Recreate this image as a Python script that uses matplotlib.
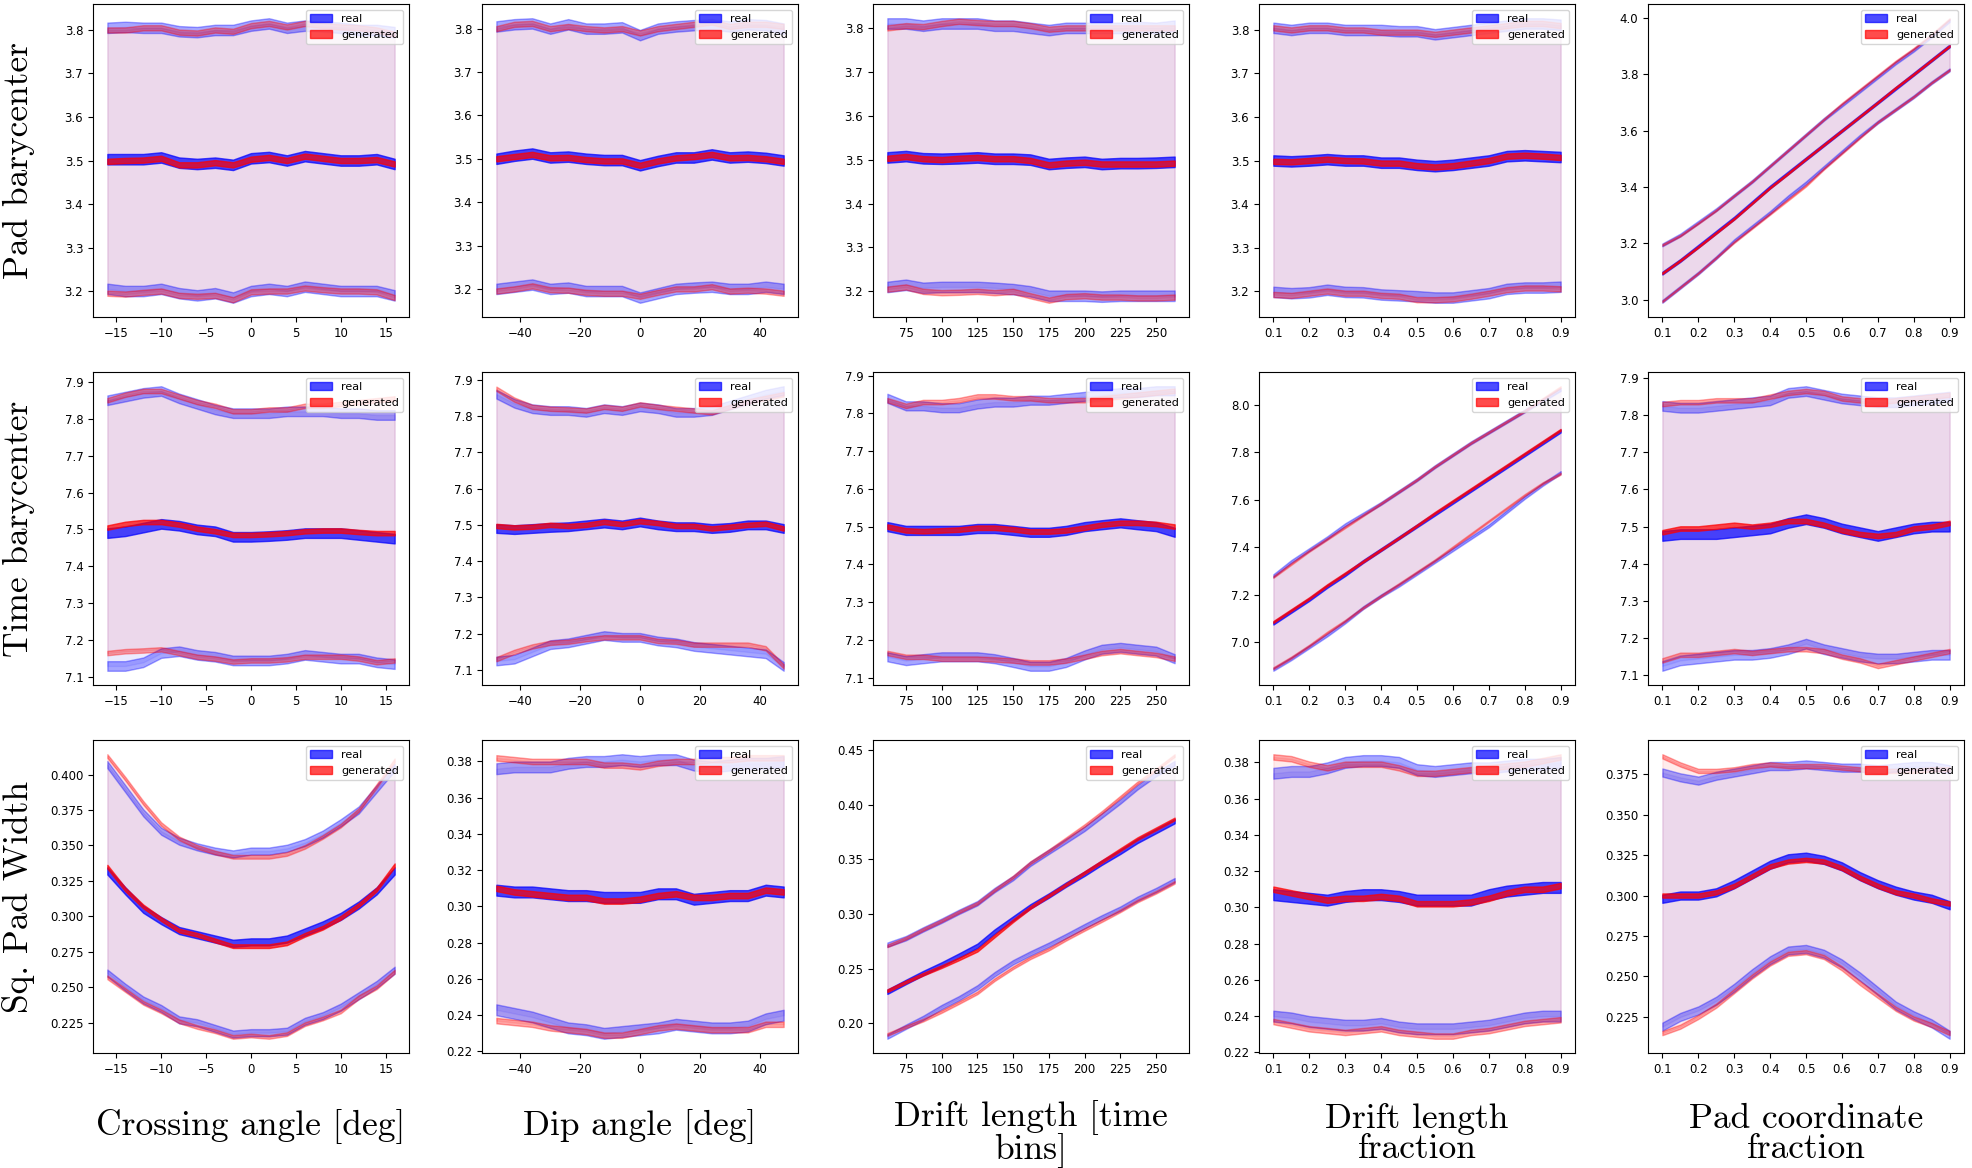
import matplotlib
matplotlib.use("Agg")
import matplotlib.pyplot as plt
from matplotlib.ticker import MultipleLocator
import numpy as np

# x grids of the five conditioning variables
x_cross = [-16, -14, -12, -10, -8, -6, -4, -2, 0, 2, 4, 6, 8, 10, 12, 14, 16]
x_dip = [-48, -42, -36, -30, -24, -18, -12, -6, 0, 6, 12, 18, 24, 30, 36, 42, 48]
x_drift = [62, 75, 87, 100, 112, 125, 137, 150, 162, 175, 187, 200, 212, 225, 237, 250, 263]
x_frac = [0.1, 0.15, 0.2, 0.25, 0.3, 0.35, 0.4, 0.45, 0.5, 0.55, 0.6, 0.65, 0.7, 0.75, 0.8, 0.85, 0.9]
x_tick_step = [None, None, 25, 0.1, 0.1]

row_labels = ["Pad barycenter", "Time barycenter", "Sq. Pad Width"]
col_labels = ["Crossing angle [deg]", "Dip angle [deg]", "Drift length [time\nbins]",
              "Drift length\nfraction", "Pad coordinate\nfraction"]

# ---- Pad barycenter ----
pb_cross_real = [3.503, 3.503, 3.503, 3.507, 3.495, 3.492, 3.495, 3.490, 3.505, 3.508, 3.500, 3.510, 3.505, 3.500, 3.500, 3.503, 3.492]
pb_cross_gen = [3.498, 3.500, 3.501, 3.505, 3.490, 3.490, 3.495, 3.490, 3.503, 3.507, 3.500, 3.510, 3.505, 3.500, 3.500, 3.502, 3.492]
pb_cross_real_hi = [3.805, 3.807, 3.805, 3.805, 3.797, 3.795, 3.800, 3.800, 3.810, 3.815, 3.805, 3.810, 3.808, 3.805, 3.800, 3.800, 3.795]
pb_cross_gen_hi = [3.800, 3.800, 3.805, 3.805, 3.795, 3.793, 3.800, 3.797, 3.810, 3.815, 3.807, 3.815, 3.810, 3.807, 3.805, 3.800, 3.790]
pb_cross_real_lo = [3.205, 3.200, 3.200, 3.205, 3.195, 3.190, 3.195, 3.185, 3.200, 3.205, 3.200, 3.210, 3.205, 3.200, 3.200, 3.200, 3.190]
pb_cross_gen_lo = [3.195, 3.193, 3.197, 3.200, 3.190, 3.188, 3.190, 3.180, 3.198, 3.200, 3.200, 3.207, 3.203, 3.200, 3.200, 3.198, 3.185]

pb_dip_real = [3.500, 3.507, 3.512, 3.503, 3.505, 3.500, 3.497, 3.497, 3.485, 3.495, 3.503, 3.503, 3.510, 3.503, 3.505, 3.502, 3.496]
pb_dip_gen = [3.500, 3.505, 3.510, 3.502, 3.503, 3.498, 3.495, 3.495, 3.485, 3.495, 3.502, 3.505, 3.510, 3.502, 3.503, 3.500, 3.494]
pb_dip_real_hi = [3.805, 3.810, 3.812, 3.800, 3.810, 3.800, 3.800, 3.803, 3.785, 3.800, 3.805, 3.808, 3.810, 3.805, 3.810, 3.808, 3.800]
pb_dip_gen_hi = [3.800, 3.810, 3.812, 3.800, 3.805, 3.800, 3.797, 3.800, 3.790, 3.800, 3.805, 3.810, 3.815, 3.805, 3.810, 3.810, 3.805]
pb_dip_real_lo = [3.200, 3.205, 3.210, 3.200, 3.203, 3.195, 3.195, 3.195, 3.180, 3.190, 3.200, 3.203, 3.205, 3.200, 3.200, 3.205, 3.200]
pb_dip_gen_lo = [3.195, 3.200, 3.207, 3.198, 3.197, 3.192, 3.190, 3.190, 3.183, 3.192, 3.200, 3.200, 3.205, 3.195, 3.197, 3.195, 3.190]

pb_drift_real = [3.505, 3.508, 3.503, 3.502, 3.503, 3.505, 3.502, 3.502, 3.500, 3.490, 3.493, 3.495, 3.490, 3.492, 3.492, 3.493, 3.495]
pb_drift_gen = [3.503, 3.507, 3.502, 3.500, 3.503, 3.505, 3.502, 3.502, 3.498, 3.488, 3.492, 3.494, 3.490, 3.490, 3.490, 3.490, 3.492]
pb_drift_real_hi = [3.810, 3.810, 3.805, 3.810, 3.810, 3.810, 3.805, 3.805, 3.800, 3.795, 3.800, 3.800, 3.800, 3.800, 3.802, 3.800, 3.805]
pb_drift_gen_hi = [3.800, 3.805, 3.803, 3.810, 3.815, 3.812, 3.810, 3.810, 3.805, 3.797, 3.800, 3.800, 3.800, 3.800, 3.800, 3.800, 3.800]
pb_drift_real_lo = [3.210, 3.215, 3.208, 3.210, 3.210, 3.210, 3.208, 3.205, 3.200, 3.190, 3.190, 3.190, 3.188, 3.190, 3.190, 3.190, 3.190]
pb_drift_gen_lo = [3.205, 3.210, 3.200, 3.197, 3.198, 3.200, 3.197, 3.200, 3.190, 3.180, 3.188, 3.190, 3.187, 3.187, 3.185, 3.185, 3.187]

pb_dfrac_real = [3.500, 3.498, 3.500, 3.503, 3.500, 3.500, 3.495, 3.495, 3.490, 3.487, 3.490, 3.495, 3.500, 3.510, 3.512, 3.510, 3.508]
pb_dfrac_gen = [3.498, 3.497, 3.500, 3.503, 3.500, 3.499, 3.494, 3.494, 3.488, 3.485, 3.488, 3.494, 3.500, 3.510, 3.512, 3.510, 3.507]
pb_dfrac_real_hi = [3.805, 3.800, 3.805, 3.805, 3.800, 3.800, 3.800, 3.797, 3.797, 3.790, 3.795, 3.800, 3.805, 3.810, 3.815, 3.815, 3.812]
pb_dfrac_gen_hi = [3.805, 3.800, 3.805, 3.805, 3.800, 3.800, 3.795, 3.795, 3.795, 3.790, 3.795, 3.800, 3.805, 3.810, 3.815, 3.815, 3.810]
pb_dfrac_real_lo = [3.198, 3.195, 3.197, 3.203, 3.198, 3.197, 3.192, 3.190, 3.188, 3.185, 3.185, 3.190, 3.195, 3.205, 3.208, 3.208, 3.210]
pb_dfrac_gen_lo = [3.192, 3.190, 3.195, 3.200, 3.195, 3.195, 3.190, 3.188, 3.180, 3.180, 3.182, 3.188, 3.195, 3.203, 3.207, 3.207, 3.205]

pb_pfrac_real = [3.095, 3.140, 3.190, 3.240, 3.290, 3.345, 3.400, 3.450, 3.500, 3.550, 3.600, 3.650, 3.700, 3.750, 3.800, 3.850, 3.900]
pb_pfrac_gen = [3.095, 3.140, 3.188, 3.238, 3.288, 3.343, 3.398, 3.448, 3.500, 3.550, 3.600, 3.650, 3.700, 3.752, 3.800, 3.850, 3.900]
pb_pfrac_real_hi = [3.195, 3.230, 3.275, 3.320, 3.370, 3.420, 3.475, 3.530, 3.585, 3.640, 3.690, 3.740, 3.790, 3.840, 3.885, 3.935, 3.990]
pb_pfrac_gen_hi = [3.195, 3.228, 3.272, 3.318, 3.370, 3.420, 3.475, 3.530, 3.585, 3.640, 3.695, 3.745, 3.795, 3.845, 3.890, 3.940, 3.995]
pb_pfrac_real_lo = [2.995, 3.045, 3.095, 3.150, 3.210, 3.260, 3.310, 3.365, 3.415, 3.470, 3.525, 3.580, 3.630, 3.675, 3.720, 3.770, 3.815]
pb_pfrac_gen_lo = [2.995, 3.045, 3.095, 3.150, 3.205, 3.255, 3.305, 3.355, 3.405, 3.465, 3.520, 3.575, 3.630, 3.675, 3.720, 3.770, 3.815]

# ---- Time barycenter ----
tb_cross_real = [7.490, 7.495, 7.505, 7.515, 7.510, 7.500, 7.495, 7.480, 7.480, 7.482, 7.485, 7.490, 7.490, 7.490, 7.485, 7.480, 7.475]
tb_cross_gen = [7.505, 7.515, 7.520, 7.520, 7.513, 7.502, 7.495, 7.485, 7.485, 7.487, 7.490, 7.495, 7.497, 7.497, 7.493, 7.490, 7.490]
tb_cross_real_hi = [7.850, 7.860, 7.870, 7.875, 7.855, 7.840, 7.825, 7.815, 7.815, 7.815, 7.820, 7.820, 7.820, 7.815, 7.815, 7.810, 7.810]
tb_cross_gen_hi = [7.850, 7.865, 7.875, 7.875, 7.860, 7.845, 7.835, 7.820, 7.820, 7.825, 7.825, 7.835, 7.835, 7.840, 7.845, 7.850, 7.855]
tb_cross_real_lo = [7.130, 7.130, 7.140, 7.165, 7.170, 7.160, 7.155, 7.145, 7.145, 7.145, 7.150, 7.160, 7.155, 7.150, 7.150, 7.140, 7.135]
tb_cross_gen_lo = [7.165, 7.170, 7.172, 7.175, 7.165, 7.155, 7.150, 7.142, 7.145, 7.145, 7.148, 7.155, 7.155, 7.155, 7.150, 7.140, 7.145]

tb_dip_real = [7.490, 7.487, 7.490, 7.493, 7.495, 7.500, 7.505, 7.500, 7.508, 7.500, 7.495, 7.495, 7.490, 7.493, 7.500, 7.500, 7.490]
tb_dip_gen = [7.497, 7.493, 7.495, 7.500, 7.497, 7.500, 7.508, 7.502, 7.510, 7.505, 7.497, 7.497, 7.490, 7.495, 7.500, 7.503, 7.490]
tb_dip_real_hi = [7.860, 7.835, 7.820, 7.815, 7.815, 7.810, 7.820, 7.815, 7.825, 7.820, 7.810, 7.810, 7.815, 7.830, 7.845, 7.860, 7.870]
tb_dip_gen_hi = [7.875, 7.845, 7.825, 7.820, 7.818, 7.815, 7.825, 7.820, 7.832, 7.825, 7.820, 7.815, 7.810, 7.825, 7.840, 7.850, 7.860]
tb_dip_real_lo = [7.125, 7.130, 7.150, 7.170, 7.175, 7.185, 7.195, 7.190, 7.190, 7.180, 7.175, 7.165, 7.160, 7.155, 7.150, 7.145, 7.110]
tb_dip_gen_lo = [7.130, 7.150, 7.165, 7.175, 7.178, 7.185, 7.190, 7.190, 7.190, 7.180, 7.178, 7.170, 7.170, 7.170, 7.170, 7.160, 7.110]

tb_drift_real = [7.500, 7.490, 7.490, 7.490, 7.490, 7.495, 7.495, 7.490, 7.485, 7.485, 7.490, 7.500, 7.505, 7.510, 7.505, 7.500, 7.485]
tb_drift_gen = [7.500, 7.490, 7.488, 7.490, 7.492, 7.497, 7.497, 7.493, 7.487, 7.487, 7.490, 7.497, 7.505, 7.510, 7.510, 7.507, 7.500]
tb_drift_real_hi = [7.840, 7.820, 7.820, 7.815, 7.815, 7.825, 7.830, 7.830, 7.835, 7.835, 7.840, 7.845, 7.850, 7.855, 7.855, 7.860, 7.860]
tb_drift_gen_hi = [7.835, 7.820, 7.830, 7.830, 7.835, 7.845, 7.845, 7.840, 7.840, 7.835, 7.835, 7.835, 7.840, 7.845, 7.850, 7.855, 7.860]
tb_drift_real_lo = [7.155, 7.145, 7.150, 7.155, 7.155, 7.155, 7.150, 7.140, 7.130, 7.130, 7.140, 7.160, 7.175, 7.180, 7.175, 7.170, 7.150]
tb_drift_gen_lo = [7.165, 7.155, 7.155, 7.150, 7.150, 7.150, 7.148, 7.145, 7.140, 7.140, 7.145, 7.155, 7.165, 7.170, 7.165, 7.160, 7.150]

tb_dfrac_real = [7.080, 7.130, 7.180, 7.235, 7.285, 7.340, 7.390, 7.440, 7.490, 7.540, 7.590, 7.640, 7.690, 7.740, 7.790, 7.840, 7.890]
tb_dfrac_gen = [7.085, 7.135, 7.185, 7.240, 7.290, 7.340, 7.390, 7.440, 7.492, 7.545, 7.595, 7.645, 7.695, 7.745, 7.795, 7.845, 7.895]
tb_dfrac_real_hi = [7.280, 7.340, 7.390, 7.440, 7.495, 7.540, 7.585, 7.635, 7.685, 7.740, 7.790, 7.840, 7.885, 7.930, 7.975, 8.020, 8.065]
tb_dfrac_gen_hi = [7.275, 7.330, 7.385, 7.435, 7.485, 7.535, 7.585, 7.635, 7.685, 7.740, 7.790, 7.840, 7.885, 7.930, 7.975, 8.025, 8.075]
tb_dfrac_real_lo = [6.885, 6.930, 6.980, 7.030, 7.085, 7.145, 7.195, 7.240, 7.290, 7.340, 7.390, 7.440, 7.490, 7.550, 7.610, 7.665, 7.715]
tb_dfrac_gen_lo = [6.890, 6.935, 6.985, 7.040, 7.090, 7.145, 7.195, 7.245, 7.295, 7.345, 7.400, 7.455, 7.510, 7.565, 7.620, 7.670, 7.710]

tb_pfrac_real = [7.475, 7.480, 7.480, 7.480, 7.485, 7.490, 7.495, 7.510, 7.520, 7.510, 7.495, 7.485, 7.475, 7.485, 7.495, 7.500, 7.500]
tb_pfrac_gen = [7.485, 7.495, 7.495, 7.500, 7.505, 7.500, 7.505, 7.515, 7.515, 7.505, 7.490, 7.480, 7.475, 7.480, 7.495, 7.500, 7.510]
tb_pfrac_real_hi = [7.825, 7.820, 7.820, 7.825, 7.830, 7.835, 7.840, 7.860, 7.865, 7.855, 7.845, 7.840, 7.835, 7.835, 7.840, 7.845, 7.850]
tb_pfrac_gen_hi = [7.830, 7.835, 7.835, 7.840, 7.840, 7.840, 7.850, 7.860, 7.865, 7.860, 7.845, 7.840, 7.835, 7.840, 7.845, 7.850, 7.855]
tb_pfrac_real_lo = [7.125, 7.140, 7.145, 7.150, 7.155, 7.155, 7.160, 7.170, 7.185, 7.170, 7.160, 7.150, 7.145, 7.145, 7.150, 7.155, 7.155]
tb_pfrac_gen_lo = [7.140, 7.155, 7.155, 7.160, 7.165, 7.160, 7.165, 7.170, 7.170, 7.165, 7.150, 7.140, 7.125, 7.135, 7.145, 7.155, 7.165]

# ---- Sq. pad width ----
pw_cross_real = [0.332, 0.318, 0.305, 0.297, 0.290, 0.287, 0.284, 0.281, 0.282, 0.282, 0.284, 0.289, 0.294, 0.300, 0.308, 0.318, 0.332]
pw_cross_gen = [0.335, 0.319, 0.307, 0.298, 0.290, 0.287, 0.283, 0.279, 0.279, 0.279, 0.281, 0.287, 0.292, 0.299, 0.308, 0.319, 0.336]
pw_cross_real_hi = [0.407, 0.390, 0.373, 0.360, 0.353, 0.349, 0.346, 0.344, 0.346, 0.346, 0.348, 0.352, 0.358, 0.366, 0.375, 0.390, 0.405]
pw_cross_gen_hi = [0.413, 0.397, 0.380, 0.365, 0.355, 0.349, 0.345, 0.342, 0.342, 0.342, 0.344, 0.349, 0.356, 0.364, 0.375, 0.392, 0.410]
pw_cross_real_lo = [0.260, 0.250, 0.241, 0.235, 0.227, 0.225, 0.221, 0.217, 0.218, 0.218, 0.219, 0.226, 0.230, 0.236, 0.244, 0.252, 0.262]
pw_cross_gen_lo = [0.257, 0.248, 0.239, 0.233, 0.226, 0.222, 0.219, 0.215, 0.216, 0.215, 0.217, 0.224, 0.228, 0.233, 0.243, 0.250, 0.261]

pw_dip_real = [0.309, 0.308, 0.308, 0.307, 0.306, 0.306, 0.305, 0.305, 0.305, 0.307, 0.307, 0.304, 0.305, 0.306, 0.306, 0.309, 0.308]
pw_dip_gen = [0.310, 0.308, 0.307, 0.306, 0.305, 0.305, 0.303, 0.303, 0.304, 0.306, 0.307, 0.305, 0.305, 0.306, 0.306, 0.309, 0.308]
pw_dip_real_hi = [0.376, 0.377, 0.377, 0.377, 0.379, 0.380, 0.380, 0.381, 0.380, 0.381, 0.381, 0.378, 0.377, 0.378, 0.379, 0.379, 0.380]
pw_dip_gen_hi = [0.382, 0.381, 0.380, 0.380, 0.380, 0.380, 0.378, 0.378, 0.377, 0.379, 0.380, 0.380, 0.381, 0.381, 0.382, 0.382, 0.382]
pw_dip_real_lo = [0.243, 0.241, 0.239, 0.236, 0.233, 0.232, 0.230, 0.231, 0.232, 0.233, 0.235, 0.234, 0.233, 0.233, 0.234, 0.238, 0.240]
pw_dip_gen_lo = [0.237, 0.236, 0.235, 0.233, 0.232, 0.231, 0.229, 0.229, 0.231, 0.233, 0.234, 0.233, 0.232, 0.232, 0.232, 0.235, 0.235]

pw_drift_real = [0.229, 0.238, 0.246, 0.254, 0.262, 0.271, 0.284, 0.296, 0.307, 0.317, 0.327, 0.337, 0.347, 0.357, 0.367, 0.376, 0.385]
pw_drift_gen = [0.230, 0.238, 0.245, 0.252, 0.259, 0.267, 0.280, 0.294, 0.306, 0.317, 0.327, 0.338, 0.348, 0.359, 0.369, 0.378, 0.387]
pw_drift_real_hi = [0.272, 0.278, 0.286, 0.294, 0.302, 0.310, 0.322, 0.333, 0.346, 0.357, 0.367, 0.378, 0.390, 0.403, 0.416, 0.428, 0.438]
pw_drift_gen_hi = [0.271, 0.278, 0.286, 0.294, 0.302, 0.310, 0.322, 0.334, 0.347, 0.358, 0.369, 0.381, 0.393, 0.407, 0.420, 0.432, 0.445]
pw_drift_real_lo = [0.188, 0.197, 0.205, 0.215, 0.223, 0.233, 0.245, 0.256, 0.264, 0.272, 0.280, 0.289, 0.297, 0.305, 0.314, 0.322, 0.331]
pw_drift_gen_lo = [0.190, 0.197, 0.203, 0.211, 0.219, 0.228, 0.240, 0.251, 0.260, 0.268, 0.277, 0.286, 0.294, 0.303, 0.312, 0.320, 0.329]

pw_dfrac_real = [0.307, 0.306, 0.305, 0.304, 0.306, 0.307, 0.307, 0.306, 0.304, 0.304, 0.304, 0.304, 0.307, 0.309, 0.310, 0.311, 0.311]
pw_dfrac_gen = [0.310, 0.308, 0.306, 0.304, 0.305, 0.305, 0.306, 0.305, 0.302, 0.302, 0.302, 0.303, 0.305, 0.308, 0.310, 0.310, 0.312]
pw_dfrac_real_hi = [0.374, 0.375, 0.375, 0.377, 0.380, 0.381, 0.381, 0.380, 0.376, 0.375, 0.376, 0.377, 0.377, 0.378, 0.379, 0.379, 0.380]
pw_dfrac_gen_hi = [0.383, 0.382, 0.379, 0.377, 0.379, 0.379, 0.379, 0.377, 0.374, 0.374, 0.375, 0.376, 0.377, 0.378, 0.379, 0.381, 0.383]
pw_dfrac_real_lo = [0.240, 0.239, 0.237, 0.236, 0.235, 0.235, 0.236, 0.234, 0.233, 0.233, 0.233, 0.234, 0.235, 0.237, 0.239, 0.240, 0.240]
pw_dfrac_gen_lo = [0.237, 0.235, 0.233, 0.232, 0.231, 0.232, 0.233, 0.231, 0.230, 0.229, 0.229, 0.231, 0.232, 0.234, 0.236, 0.237, 0.238]

pw_pfrac_real = [0.298, 0.300, 0.300, 0.302, 0.307, 0.313, 0.319, 0.323, 0.324, 0.322, 0.318, 0.312, 0.307, 0.303, 0.300, 0.298, 0.294]
pw_pfrac_gen = [0.300, 0.300, 0.300, 0.302, 0.306, 0.312, 0.318, 0.321, 0.322, 0.321, 0.317, 0.311, 0.306, 0.302, 0.300, 0.297, 0.295]
pw_pfrac_real_hi = [0.376, 0.373, 0.371, 0.374, 0.376, 0.378, 0.380, 0.380, 0.381, 0.380, 0.379, 0.379, 0.378, 0.379, 0.380, 0.380, 0.378]
pw_pfrac_gen_hi = [0.386, 0.381, 0.377, 0.377, 0.378, 0.380, 0.381, 0.380, 0.380, 0.380, 0.379, 0.378, 0.377, 0.377, 0.377, 0.378, 0.378]
pw_pfrac_real_lo = [0.219, 0.225, 0.229, 0.235, 0.243, 0.252, 0.260, 0.266, 0.267, 0.264, 0.258, 0.250, 0.241, 0.232, 0.226, 0.221, 0.214]
pw_pfrac_gen_lo = [0.215, 0.219, 0.225, 0.232, 0.241, 0.250, 0.258, 0.264, 0.265, 0.262, 0.255, 0.246, 0.238, 0.230, 0.224, 0.220, 0.215]

# half-widths of the uncertainty bands, per panel (rows x columns)
err_real = [[0.012, 0.012, 0.012, 0.012, 0.005],
            [0.013, 0.012, 0.012, 0.006, 0.013],
            [0.0025, 0.003, 0.002, 0.003, 0.0025]]
err_gen = [[0.006, 0.006, 0.006, 0.006, 0.003],
           [0.006, 0.006, 0.006, 0.004, 0.006],
           [0.0013, 0.0015, 0.0012, 0.0015, 0.0013]]

xs = [x_cross, x_dip, x_drift, x_frac, x_frac]
panels = [
    [(pb_cross_real, pb_cross_real_hi, pb_cross_real_lo, pb_cross_gen, pb_cross_gen_hi, pb_cross_gen_lo),
     (pb_dip_real, pb_dip_real_hi, pb_dip_real_lo, pb_dip_gen, pb_dip_gen_hi, pb_dip_gen_lo),
     (pb_drift_real, pb_drift_real_hi, pb_drift_real_lo, pb_drift_gen, pb_drift_gen_hi, pb_drift_gen_lo),
     (pb_dfrac_real, pb_dfrac_real_hi, pb_dfrac_real_lo, pb_dfrac_gen, pb_dfrac_gen_hi, pb_dfrac_gen_lo),
     (pb_pfrac_real, pb_pfrac_real_hi, pb_pfrac_real_lo, pb_pfrac_gen, pb_pfrac_gen_hi, pb_pfrac_gen_lo)],
    [(tb_cross_real, tb_cross_real_hi, tb_cross_real_lo, tb_cross_gen, tb_cross_gen_hi, tb_cross_gen_lo),
     (tb_dip_real, tb_dip_real_hi, tb_dip_real_lo, tb_dip_gen, tb_dip_gen_hi, tb_dip_gen_lo),
     (tb_drift_real, tb_drift_real_hi, tb_drift_real_lo, tb_drift_gen, tb_drift_gen_hi, tb_drift_gen_lo),
     (tb_dfrac_real, tb_dfrac_real_hi, tb_dfrac_real_lo, tb_dfrac_gen, tb_dfrac_gen_hi, tb_dfrac_gen_lo),
     (tb_pfrac_real, tb_pfrac_real_hi, tb_pfrac_real_lo, tb_pfrac_gen, tb_pfrac_gen_hi, tb_pfrac_gen_lo)],
    [(pw_cross_real, pw_cross_real_hi, pw_cross_real_lo, pw_cross_gen, pw_cross_gen_hi, pw_cross_gen_lo),
     (pw_dip_real, pw_dip_real_hi, pw_dip_real_lo, pw_dip_gen, pw_dip_gen_hi, pw_dip_gen_lo),
     (pw_drift_real, pw_drift_real_hi, pw_drift_real_lo, pw_drift_gen, pw_drift_gen_hi, pw_drift_gen_lo),
     (pw_dfrac_real, pw_dfrac_real_hi, pw_dfrac_real_lo, pw_dfrac_gen, pw_dfrac_gen_hi, pw_dfrac_gen_lo),
     (pw_pfrac_real, pw_pfrac_real_hi, pw_pfrac_real_lo, pw_pfrac_gen, pw_pfrac_gen_hi, pw_pfrac_gen_lo)],
]

W, H = 1972, 1168
fig = plt.figure(figsize=(W / 100, H / 100), dpi=100)

col_left = [93, 482, 873, 1259, 1648]
row_top = [4, 372, 740]
ax_w, ax_h = 316, 313


def band(ax, x, y, e, color, alpha):
    y = np.asarray(y)
    return ax.fill_between(x, y - e, y + e, color=color, alpha=alpha)


for r in range(3):
    for c in range(5):
        ax = fig.add_axes([col_left[c] / W, 1 - (row_top[r] + ax_h) / H, ax_w / W, ax_h / H])
        x = np.asarray(xs[c])
        m_r, hi_r, lo_r, m_g, hi_g, lo_g = panels[r][c]
        er, eg = err_real[r][c], err_gen[r][c]

        # one-sigma regions
        ax.fill_between(x, lo_r, hi_r, color='blue', alpha=0.08)
        ax.fill_between(x, lo_g, hi_g, color='red', alpha=0.08)
        # uncertainty on mean +- std
        band(ax, x, hi_r, er, 'blue', 0.35)
        band(ax, x, lo_r, er, 'blue', 0.35)
        band(ax, x, hi_g, eg, 'red', 0.35)
        band(ax, x, lo_g, eg, 'red', 0.35)
        # uncertainty on the mean
        h_r = band(ax, x, m_r, er, 'blue', 0.7)
        h_g = band(ax, x, m_g, eg, 'red', 0.7)

        if x_tick_step[c]:
            ax.xaxis.set_major_locator(MultipleLocator(x_tick_step[c]))
        ax.legend([h_r, h_g], ['real', 'generated'], loc='upper right', fontsize=8)
        ax.tick_params(labelsize=8.5)

for r, lab in enumerate(row_labels):
    yc = 1 - (row_top[r] + ax_h / 2) / H
    fig.text(0.0095, yc, lab, rotation=90, ha='center', va='center',
             family='cmr10', fontsize=25.5)

for c, lab in enumerate(col_labels):
    xc = (col_left[c] + ax_w / 2) / W
    yc = 1 - (1134 if '\n' in lab else 1127) / H
    fig.text(xc, yc, lab, ha='center', va='center', family='cmr10',
             fontsize=25.5, linespacing=0.95, multialignment='center')

fig.savefig('out.png', dpi=100)
